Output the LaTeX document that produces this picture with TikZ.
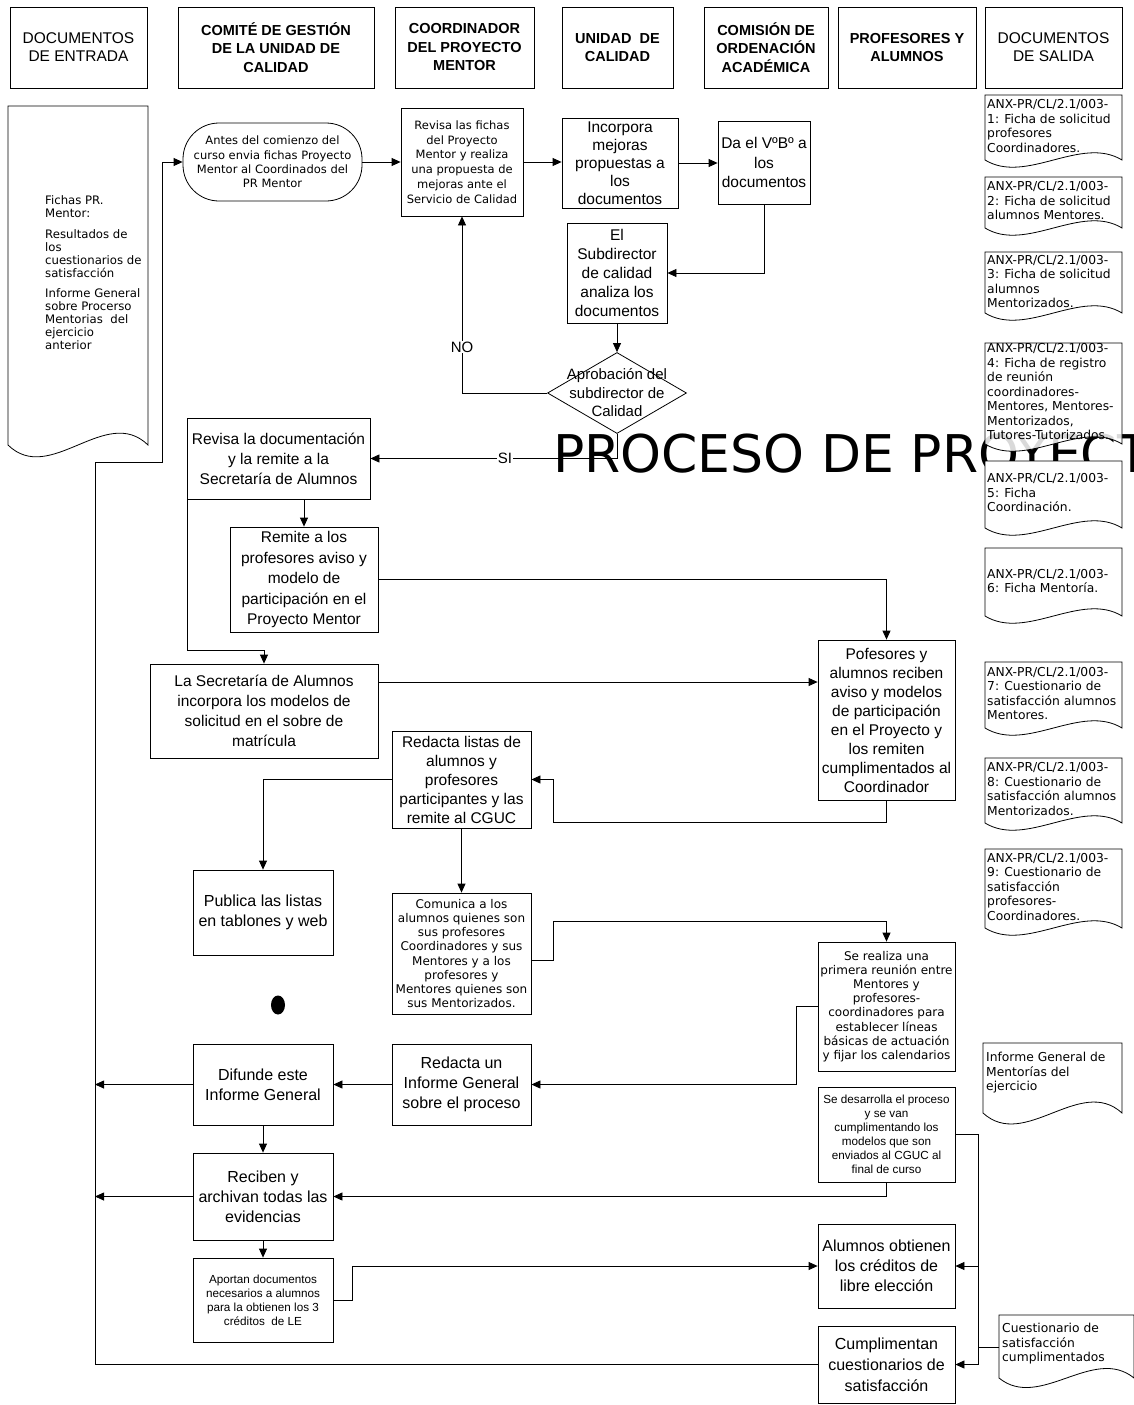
\documentclass[tikz,border=0pt]{standalone}
\usepackage{fontspec}
\newfontfamily\arf{Liberation Sans}
\newfontfamily\vef{DejaVu Sans}
\usetikzlibrary{arrows.meta,shapes.geometric}
% document shape: x1 y1 x2 y2 C
\newcommand\mydoc[6][]{\draw[docline,#1] (#2,#3) -- (#4,#3) -- (#4,#5) .. controls ({#4-0.3*(#4-#2)},{#5-#6}) and ({#2+0.3*(#4-#2)},{#5+#6}) .. (#2,#5) -- cycle;}
\begin{document}
\begin{tikzpicture}[x=1pt,y=-1pt,
  box/.style={draw, line width=0.8pt, fill=white, align=center, inner sep=1pt, rectangle},
  hd/.style={box, minimum height=81pt},
  A/.style={font=\arf\fontsize{15.5}{19.5}\selectfont},
  As/.style={font=\arf\fontsize{11.7}{14}\selectfont},
  V/.style={font=\vef\fontsize{11.5}{14.2}\selectfont},
  Vb/.style={font=\vef\fontsize{12}{14.2}\selectfont},
  HB/.style={font=\arf\bfseries\fontsize{14.5}{18.5}\selectfont},
  HR/.style={font=\arf\fontsize{15.5}{18}\selectfont},
  arr/.style={line width=0.8pt, -{Triangle[length=9pt,width=8pt]}},
  ln/.style={line width=0.8pt},
  lbl/.style={fill=white, inner sep=1pt, font=\arf\fontsize{15}{18}\selectfont},
  docline/.style={draw, line width=0.8pt, fill=white},
  doctext/.style={font=\vef\fontsize{12.3}{14.5}\selectfont, align=left, inner sep=0pt, anchor=west}
]
\useasboundingbox (0,0) rectangle (1134,1405);
\fill[white] (0,0) rectangle (1134,1405);

% ---------- headers ----------
\node[hd, HR, minimum width=137pt] (h1) at (78.5,47.5) {DOCUMENTOS\\DE ENTRADA};
\node[hd, HB, minimum width=196pt] (h2) at (276,47.5) {COMITÉ DE GESTIÓN\\DE LA UNIDAD DE\\CALIDAD};
\node[hd, HB, minimum width=139pt] (h3) at (464.5,47.5) {COORDINADOR\\DEL PROYECTO\\MENTOR};
\node[hd, HB, minimum width=111pt] (h4) at (617.5,47.5) {UNIDAD~ DE\\CALIDAD};
\node[hd, HB, minimum width=124pt] (h5) at (766,47.5) {COMISIÓN DE\\ORDENACIÓN\\ACADÉMICA};
\node[hd, HB, minimum width=138pt] (h6) at (907,47.5) {PROFESORES Y\\ALUMNOS};
\node[hd, HR, minimum width=137pt] (h7) at (1053.5,47.5) {DOCUMENTOS\\DE SALIDA};

% ---------- input document ----------
\mydoc{8}{106}{148}{445}{41}
\node[font=\vef\fontsize{11.7}{13}\selectfont, align=left, inner sep=0pt, anchor=west] (din) at (45,273)
 {Fichas PR.\\Mentor:\\[8pt]Resultados de\\los\\cuestionarios de\\satisfacción\\[7pt]Informe General\\sobre Procerso\\Mentorias~ del\\ejercicio\\anterior};

% ---------- top flow ----------
\node[box, V, rounded corners=36pt, minimum width=179pt, minimum height=78pt] (start) at (272.5,162)
 {Antes del comienzo del\\curso envia fichas Proyecto\\Mentor al Coordinados del\\PR Mentor};
\node[box, font=\vef\fontsize{11.5}{14.7}\selectfont, minimum width=122pt, minimum height=108pt] (fichas) at (462,162)
 {Revisa las fichas\\del Proyecto\\Mentor y realiza\\una propuesta de\\mejoras ante el\\Servicio de Calidad};
\node[box, font=\arf\fontsize{15.5}{18}\selectfont, minimum width=116pt, minimum height=90pt] (incorp) at (620,163)
 {Incorpora\\mejoras\\propuestas a\\los\\documentos};
\node[box, A, minimum width=92pt, minimum height=83pt] (vobo) at (764,162.5)
 {Da el VºBº a\\los\\documentos};
\node[box, font=\arf\fontsize{15.5}{19}\selectfont, minimum width=100pt, minimum height=100pt] (subdir) at (617,273)
 {El\\Subdirector\\de calidad\\analiza los\\documentos};
\node[diamond, draw, line width=0.8pt, fill=white, minimum width=139pt, minimum height=81pt, inner sep=0pt] (diam) at (617,393) {};
\node[align=center, inner sep=0pt, font=\arf\fontsize{15}{18.5}\selectfont] (diamtxt) at (617,393)
 {Aprobación del\\subdirector de\\Calidad};

% ---------- middle ----------
\node[box, font=\arf\fontsize{15.5}{20}\selectfont, minimum width=183pt, minimum height=81pt] (revdoc) at (278.5,458.5)
 {Revisa la documentación\\y la remite a la\\Secretaría de Alumnos};
\node[box, font=\arf\fontsize{15.5}{20.5}\selectfont, minimum width=148pt, minimum height=105pt] (remite) at (304,579.5)
 {Remite a los\\profesores aviso y\\modelo de\\participación en el\\Proyecto Mentor};
\node[box, font=\arf\fontsize{15.5}{20}\selectfont, minimum width=228pt, minimum height=94pt] (secal) at (264,711)
 {La Secretaría de Alumnos\\incorpora los modelos de\\solicitud en el sobre de\\matrícula};
\node[box, font=\arf\fontsize{15.5}{19}\selectfont, minimum width=137pt, minimum height=160pt] (pofes) at (886.5,720)
 {Pofesores y\\alumnos reciben\\aviso y modelos\\de participación\\en el Proyecto y\\los remiten\\cumplimentados al\\Coordinador};
\node[box, font=\arf\fontsize{15.5}{19}\selectfont, minimum width=139pt, minimum height=97pt] (rlistas) at (461.5,779.5)
 {Redacta listas de\\alumnos y\\profesores\\participantes y las\\remite al CGUC};
\node[box, font=\arf\fontsize{16}{20}\selectfont, minimum width=140pt, minimum height=85pt] (publica) at (263,912.5)
 {Publica las listas\\en tablones y web};
\node[box, Vb, minimum width=139pt, minimum height=121pt] (comunica) at (461.5,953.5)
 {Comunica a los\\alumnos quienes son\\sus profesores\\Coordinadores y sus\\Mentores y a los\\profesores y\\Mentores quienes son\\sus Mentorizados.};
\node[ellipse, fill=black, minimum width=14pt, minimum height=19pt, inner sep=0pt] (dot) at (278,1005) {};
\node[box, Vb, minimum width=137pt, minimum height=129pt] (realiza) at (886.5,1006.5)
 {Se realiza una\\primera reunión entre\\Mentores y\\profesores-\\coordinadores para\\establecer líneas\\básicas de actuación\\y fijar los calendarios};
\node[box, font=\arf\fontsize{16}{20}\selectfont, minimum width=139pt, minimum height=81pt] (rinforme) at (461.5,1084.5)
 {Redacta un\\Informe General\\sobre el proceso};
\node[box, font=\arf\fontsize{16}{20}\selectfont, minimum width=140pt, minimum height=81pt] (difunde) at (263,1084.5)
 {Difunde este\\Informe General};
\node[box, As, minimum width=137pt, minimum height=95pt] (desarrolla) at (886.5,1134.5)
 {Se desarrolla el proceso\\y se van\\cumplimentando los\\modelos que son\\enviados al CGUC al\\final de curso};
\node[box, font=\arf\fontsize{16}{20}\selectfont, minimum width=140pt, minimum height=87pt] (reciben) at (263,1196.5)
 {Reciben y\\archivan todas las\\evidencias};
\node[box, As, minimum width=140pt, minimum height=84pt] (aportan) at (263,1300)
 {Aportan documentos\\necesarios a alumnos\\para la obtienen los 3\\créditos~ de LE};
\node[box, font=\arf\fontsize{16}{20}\selectfont, minimum width=137pt, minimum height=84pt] (alumnos) at (886.5,1266)
 {Alumnos obtienen\\los créditos de\\libre elección};
\node[box, font=\arf\fontsize{16}{21}\selectfont, minimum width=137pt, minimum height=77pt] (cumpl) at (886.5,1364.5)
 {Cumplimentan\\cuestionarios de\\satisfacción};

% ---------- output documents ----------
\mydoc{985}{95}{1122}{160}{25}
\node[doctext] (d1) at (987,126) {ANX-PR/CL/2.1/003-\\1: Ficha de solicitud\\profesores\\Coordinadores.};
\mydoc{985}{177}{1122}{228}{25}
\node[doctext] (d2) at (987,201) {ANX-PR/CL/2.1/003-\\2: Ficha de solicitud\\alumnos Mentores.};
\mydoc{985}{252}{1122}{313}{25}
\node[doctext] (d3) at (987,281.5) {ANX-PR/CL/2.1/003-\\3: Ficha de solicitud\\alumnos\\Mentorizados.};

% watermark title
\node[anchor=base west, inner sep=0pt, font=\vef\fontsize{52}{52}\selectfont] (title) at (553,472) {PROCESO DE PROYECT};

\mydoc[fill opacity=0.85]{985}{343}{1122}{444}{25}
\node[doctext] (d4) at (987,392) {ANX-PR/CL/2.1/003-\\4: Ficha de registro\\de reunión\\coordinadores-\\Mentores, Mentores-\\Mentorizados,\\Tutores-Tutorizados.};
\mydoc{985}{461}{1122}{528}{25}
\node[doctext] (d5) at (987,493) {ANX-PR/CL/2.1/003-\\5: Ficha\\Coordinación.};
\mydoc{985}{548}{1122}{616}{25}
\node[doctext] (d6) at (987,581) {ANX-PR/CL/2.1/003-\\6: Ficha Mentoría.};
\mydoc{985}{662}{1122}{728}{25}
\node[doctext] (d7) at (987,693.5) {ANX-PR/CL/2.1/003-\\7: Cuestionario de\\satisfacción alumnos\\Mentores.};
\mydoc{985}{758}{1122}{823}{25}
\node[doctext] (d8) at (987,789) {ANX-PR/CL/2.1/003-\\8: Cuestionario de\\satisfacción alumnos\\Mentorizados.};
\mydoc{985}{849}{1122}{928}{25}
\node[doctext] (d9) at (987,887) {ANX-PR/CL/2.1/003-\\9: Cuestionario de\\satisfacción\\profesores-\\Coordinadores.};
\mydoc{983}{1043}{1122}{1113}{38}
\node[doctext] (dinf) at (986,1073) {Informe General de\\Mentorías del\\ejercicio};
\mydoc{999}{1315}{1134}{1378}{33}
\node[doctext] (dq) at (1002,1344) {Cuestionario de\\satisfacción\\cumplimentados};

% ---------- connectors ----------
\coordinate (L1) at (95,462);
\coordinate (L2) at (162,462);
\draw[arr] (cumpl.west) -| (L1) -- (L2) |- (start.west);
\draw[arr] (difunde.west) -- (difunde.west -| L1);
\draw[arr] (reciben.west) -- (reciben.west -| L1);
\draw[arr] (start.east) -- (start.east -| fichas.west);
\draw[arr] (fichas.east) -- (fichas.east -| incorp.west);
\draw[arr] (incorp.east) -- (incorp.east -| vobo.west);
\draw[arr] (vobo.south) |- (subdir.east);
\draw[arr] (subdir.south) -- (diam.north);
\draw[arr] (diam.west) -| (fichas.south);
\node[lbl] (no) at (462,347) {NO};
\draw[arr] (diam.south) |- (revdoc.east);
\node[lbl] (si) at (505,458.5) {SI};
\draw[arr] (revdoc.south -| remite.north) -- (remite.north);
\draw[arr] ([xshift=1pt]revdoc.south west) -- ++(0,151) -| (secal.north);
\draw[arr] (remite.east) -| (pofes.north);
\coordinate (s1) at ([yshift=29pt]secal.east);
\draw[arr] (s1) -- (s1 -| pofes.west);
\draw[arr] (pofes.south) -- ++(0,22) -| ([xshift=22pt]rlistas.east) -- (rlistas.east);
\draw[arr] (rlistas.west) -| (publica.north);
\draw[arr] (rlistas.south) -- (comunica.north);
\coordinate (c1) at ([yshift=-7pt]comunica.east);
\draw[arr] (c1) -- ++(22,0) -- ++(0,-39) -| (realiza.north);
\draw[arr] (realiza.west) -- ++(-21,0) |- (rinforme.east);
\draw[arr] (rinforme.west) -- (difunde.east);
\draw[arr] (difunde.south) -- (reciben.north);
\draw[arr] (desarrolla.south) |- (reciben.east);
\draw[arr] (desarrolla.east) -- ++(23,0) coordinate (dv) |- (cumpl.east);
\draw[arr] (dv |- alumnos.east) -- (alumnos.east);
\draw[arr] (reciben.south) -- (aportan.north);
\draw[arr] (aportan.east) -- ++(19,0) |- (alumnos.west);
\coordinate (cq) at (999,1347);
\draw[ln] (cq) -| (dv |- cumpl.east);
\end{tikzpicture}
\end{document}
